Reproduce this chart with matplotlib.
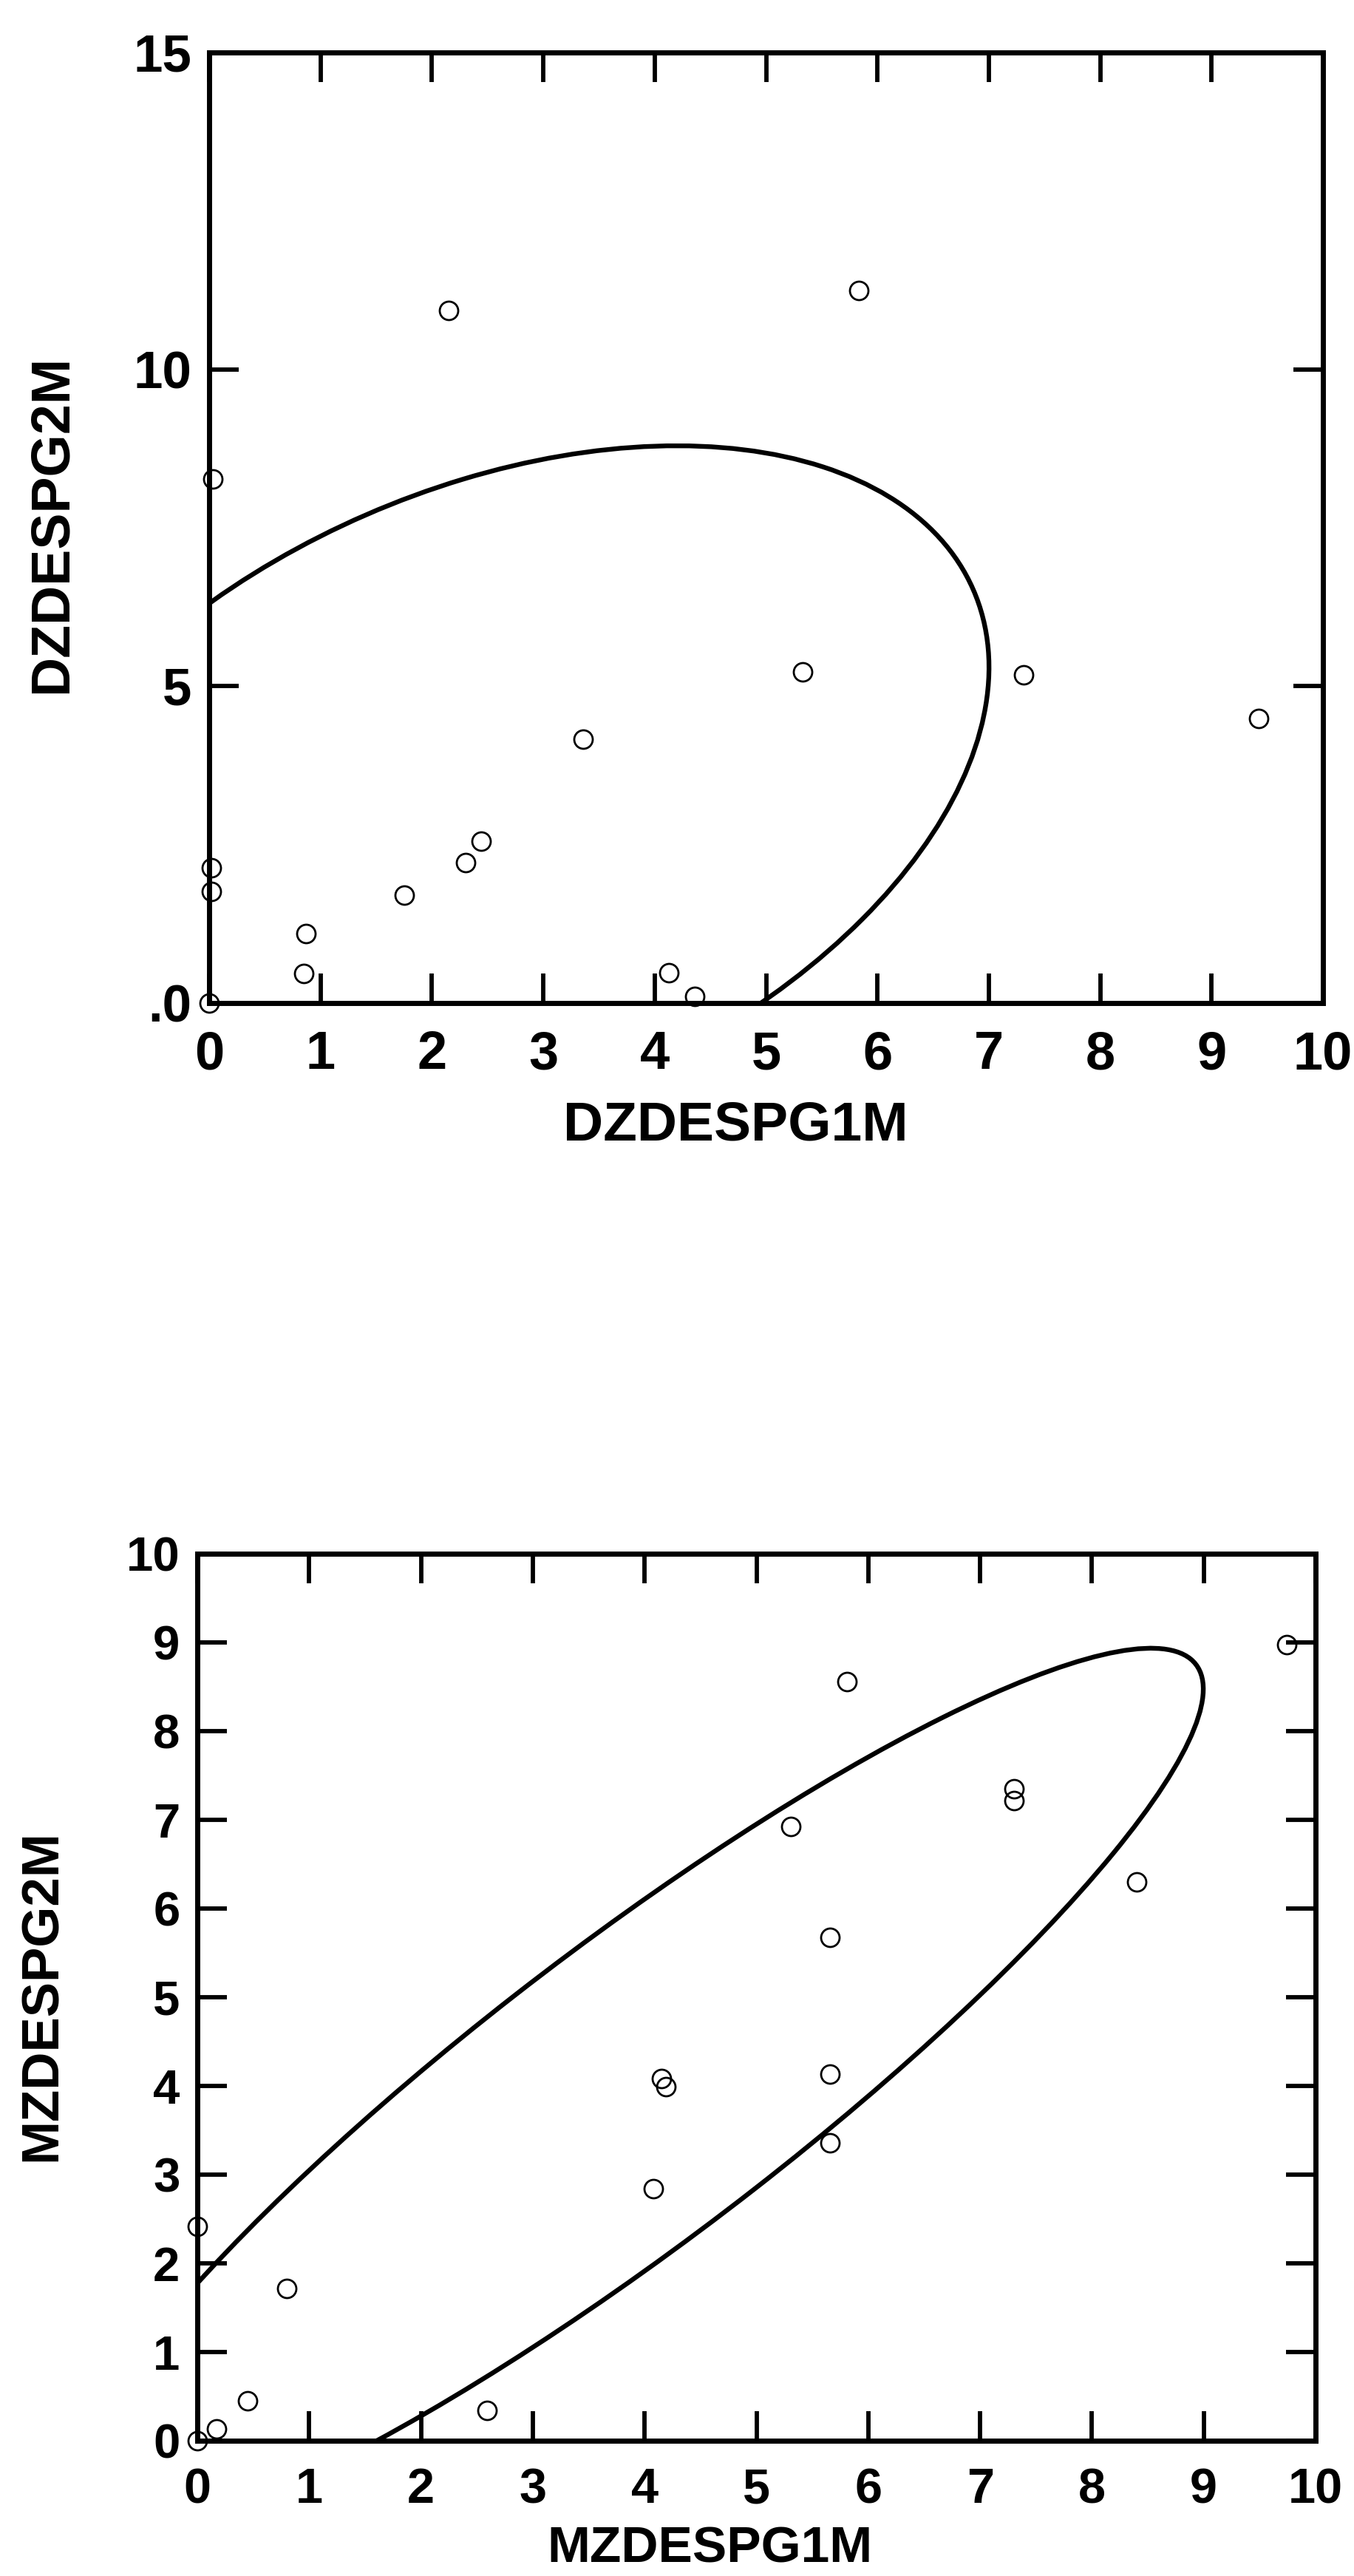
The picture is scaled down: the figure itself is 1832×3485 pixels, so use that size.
import matplotlib
matplotlib.use("Agg")
import matplotlib.pyplot as plt
from matplotlib.patches import Ellipse

plt.rcParams['font.family'] = ['Liberation Sans', 'DejaVu Sans']
plt.rcParams['font.weight'] = 'bold'

# upper panel: DZDESPG1M vs DZDESPG2M
dz_g1 = [0.0, 0.03, 0.02, 0.02, 0.85, 0.87, 1.75, 2.30, 2.44, 3.36,
         4.13, 4.36, 5.33, 7.31, 9.42, 2.15, 5.83]
dz_g2 = [0.0, 8.27, 2.14, 1.76, 0.47, 1.10, 1.70, 2.22, 2.55, 4.16,
         0.48, 0.10, 5.23, 5.18, 4.49, 10.93, 11.24]
# ellipse: center x, center y, width, height, angle (data units)
dz_ell = [2.53, 3.22, 12.06, 7.67, 60.4]

# lower panel: MZDESPG1M vs MZDESPG2M
mz_g1 = [0.0, 0.17, 0.45, 0.80, 0.0, 2.59, 4.08, 4.15, 4.19, 5.66,
         5.66, 5.66, 5.31, 5.81, 7.30, 7.30, 8.40, 9.74]
mz_g2 = [0.0, 0.13, 0.45, 1.72, 2.42, 0.34, 2.84, 4.08, 3.99, 3.36,
         4.13, 5.68, 6.93, 8.56, 7.35, 7.22, 6.30, 8.98]
mz_ell = [3.91, 3.93, 13.94, 3.06, 44.5]

x_ticks = list(range(0, 11))
dz_yticks = [0, 5, 10, 15]
dz_ylabels = [".0", "5", "10", "15"]
mz_yticks = list(range(0, 11))


def draw_panel(ax, xs, ys, ell, yticks, ylabels, ymax, xfs, yfs):
    ax.plot(xs, ys, 'o', mfc='none', mec='black', ms=18, mew=2,
            clip_on=False, zorder=3)
    e = Ellipse((ell[0], ell[1]), ell[2], ell[3], angle=ell[4],
                fill=False, ec='black', lw=4.6)
    ax.add_patch(e)
    ax.set_xlim(0, 10)
    ax.set_ylim(0, ymax)
    ax.set_xticks(x_ticks)
    ax.set_xticklabels([str(t) for t in x_ticks])
    ax.set_yticks(yticks)
    ax.set_yticklabels(ylabels)
    ax.tick_params(axis='both', direction='in', length=29, width=4.2,
                   top=True, right=True)
    ax.tick_params(axis='x', labelsize=xfs, pad=26)
    ax.tick_params(axis='y', labelsize=yfs, pad=17)
    for s in ax.spines.values():
        s.set_linewidth(5)


fig = plt.figure(figsize=(18.33, 34.85), dpi=100)

ax1 = fig.add_axes([0.1544, 0.6106, 0.8222, 0.3690])
draw_panel(ax1, dz_g1, dz_g2, dz_ell, dz_yticks, dz_ylabels, 15, 52, 51)
fig.text(0.5428, 0.563, "DZDESPG1M", fontsize=54, ha='center', va='center')
fig.text(0.038, 0.7966, "DZDESPG2M", fontsize=53, ha='center', va='center',
         rotation=90)

ax2 = fig.add_axes([0.1457, 0.0525, 0.8254, 0.3443])
draw_panel(ax2, mz_g1, mz_g2, mz_ell, mz_yticks,
           [str(t) for t in mz_yticks], 10, 48, 47)
fig.text(0.5237, 0.0105, "MZDESPG1M", fontsize=50, ha='center', va='center')
fig.text(0.0316, 0.2253, "MZDESPG2M", fontsize=51, ha='center', va='center',
         rotation=90)

fig.savefig("out.png", dpi=100)
